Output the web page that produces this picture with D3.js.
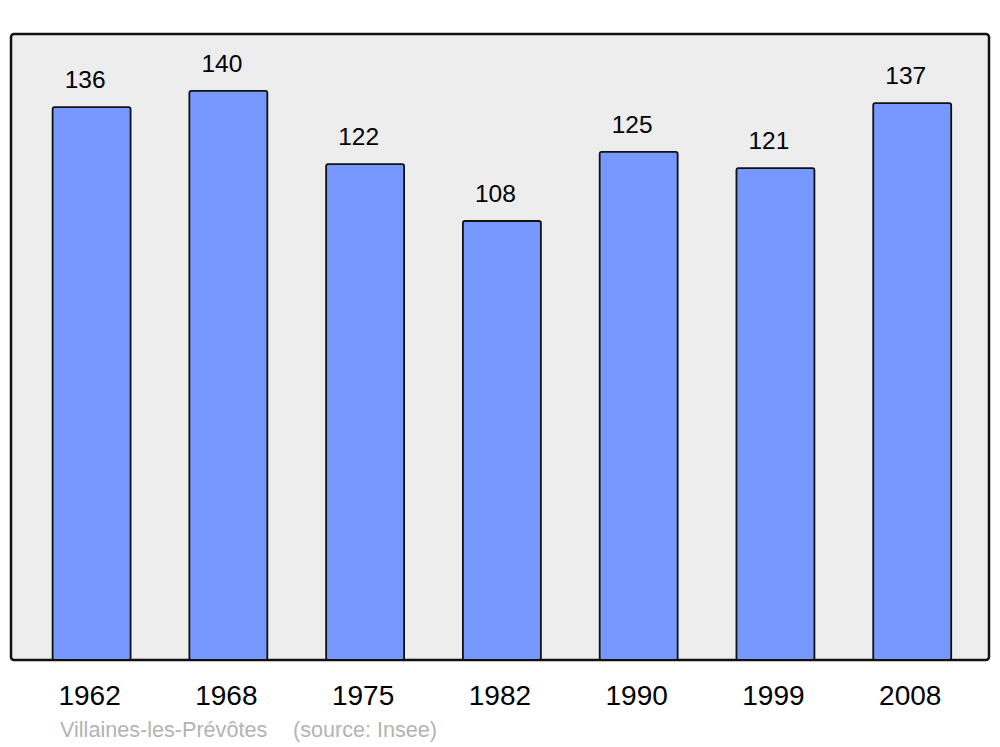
<!DOCTYPE html>
<html>
<head>
<meta charset="utf-8">
<title>Population</title>
<script src="https://d3js.org/d3.v7.min.js"></script>
<style>
  body { margin: 0; background: white; font-family: "Liberation Sans", Arial, sans-serif; }
</style>
</head>
<body>
<div id="chart"></div>
<script>
const years = ["1962", "1968", "1975", "1982", "1990", "1999", "2008"];
const population = [136, 140, 122, 108, 125, 121, 137];
const town = "Villaines-les-Prévôtes";
const source = "(source: Insee)";

const width = 1000, height = 747;
const svg = d3.select("#chart").append("svg")
  .attr("width", width).attr("height", height);

// panel
const panel = { x: 11, y: 34, w: 978, h: 626 };
svg.append("rect")
  .attr("x", panel.x).attr("y", panel.y)
  .attr("width", panel.w).attr("height", panel.h)
  .attr("rx", 3)
  .attr("fill", "#ededed")
  .attr("stroke", "#111")
  .attr("stroke-width", 2.5);

const x = d3.scaleBand()
  .domain(years)
  .range([23.2, 980.6])
  .paddingInner(0.43)
  .paddingOuter(0.215);

const y = d3.scaleLinear()
  .domain([0, d3.max(population) * 1.1])
  .range([panel.y + panel.h, panel.y]);

const data = years.map((yr, i) => ({ year: yr, value: population[i] }));

svg.append("g").selectAll("rect")
  .data(data)
  .join("rect")
  .attr("x", d => x(d.year))
  .attr("y", d => y(d.value))
  .attr("width", x.bandwidth())
  .attr("height", d => y(0) - y(d.value))
  .attr("rx", 2)
  .attr("fill", "#7799ff")
  .attr("stroke", "#111")
  .attr("stroke-width", 1.8);

// value labels
svg.append("g").selectAll("text")
  .data(data)
  .join("text")
  .attr("x", d => x(d.year) + x.bandwidth() / 2 - 6.5)
  .attr("y", d => y(d.value) - 19)
  .attr("text-anchor", "middle")
  .attr("font-size", 24.5)
  .attr("fill", "#000")
  .text(d => d.value);

// year labels
svg.append("g").selectAll("text")
  .data(data)
  .join("text")
  .attr("x", d => x(d.year) + x.bandwidth() / 2 - 2)
  .attr("y", 705)
  .attr("text-anchor", "middle")
  .attr("font-size", 28)
  .attr("fill", "#000")
  .text(d => d.year);

// footer
svg.append("text")
  .attr("x", 60).attr("y", 737)
  .attr("font-size", 21.6)
  .attr("fill", "#b3b3b3")
  .text(town);
svg.append("text")
  .attr("x", 293).attr("y", 737)
  .attr("font-size", 21.6)
  .attr("fill", "#b3b3b3")
  .text(source);
</script>
</body>
</html>
